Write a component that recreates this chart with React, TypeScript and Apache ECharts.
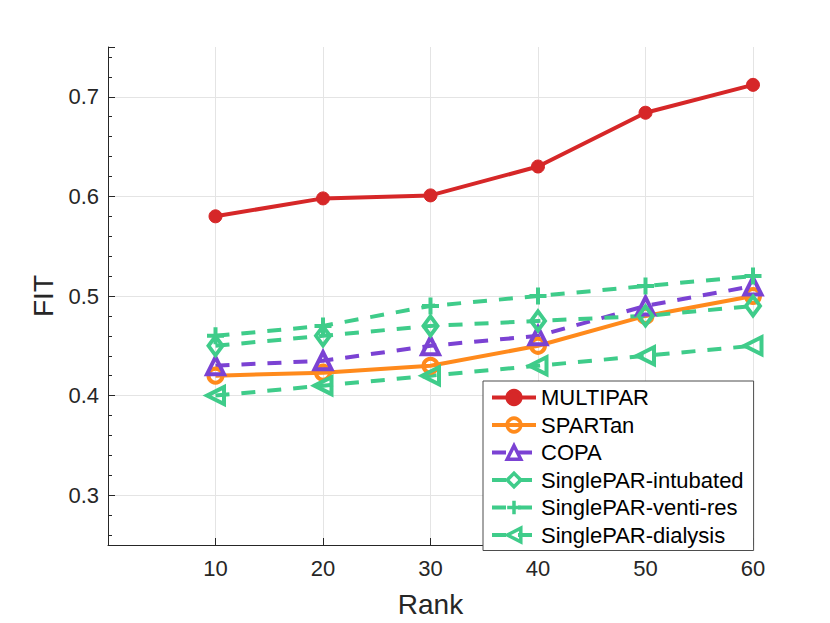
import React, { useEffect, useRef } from "react";
import * as echarts from "echarts";

const ranks = [10, 20, 30, 40, 50, 60];
const multipar = [0.58, 0.598, 0.601, 0.63, 0.684, 0.712];
const spartan = [0.42, 0.423, 0.43, 0.45, 0.48, 0.5];
const copa = [0.43, 0.435, 0.45, 0.46, 0.49, 0.51];
const intubated = [0.45, 0.46, 0.47, 0.475, 0.48, 0.49];
const ventiRes = [0.46, 0.47, 0.49, 0.5, 0.51, 0.52];
const dialysis = [0.4, 0.41, 0.42, 0.43, 0.44, 0.45];
const seriesNames = [
  "MULTIPAR",
  "SPARTan",
  "COPA",
  "SinglePAR-intubated",
  "SinglePAR-venti-res",
  "SinglePAR-dialysis",
];

const RED = "#D62728";
const ORANGE = "#FF8A1C";
const PURPLE = "#7B42D3";
const GREEN = "#3FCC8A";
const TEXT = "#262626";
const FONT = "'Liberation Sans', Arial, Helvetica, sans-serif";

const pair = (ys: number[]) => ranks.map((x, i) => [x, ys[i]]);

export default function App() {
  const ref = useRef<HTMLDivElement>(null);
  useEffect(() => {
    if (!ref.current) return;
    const chart = echarts.init(ref.current, undefined, { renderer: "svg" });
    const mk = (
      name: string,
      ys: number[],
      color: string,
      dashed: boolean,
      symbol: string,
      size: number | number[],
      filled: boolean
    ) => ({
      type: "line",
      name,
      data: pair(ys),
      symbol,
      symbolSize: size,
      showAllSymbol: true,
      lineStyle: { color, width: 4, type: dashed ? [14, 12] : "solid" },
      itemStyle: {
        color: filled ? color : "rgba(0,0,0,0)",
        borderColor: color,
        borderWidth: filled ? 1 : 4,
      },
      emphasis: { disabled: true },
      z: 3,
    });
    chart.setOption({
      animation: false,
      textStyle: { fontFamily: FONT },
      grid: { left: 108, top: 47, width: 645, height: 502, containLabel: false },
      xAxis: {
        type: "value",
        min: 0,
        max: 60,
        interval: 10,
        name: "Rank",
        nameLocation: "middle",
        nameGap: 45,
        nameTextStyle: { fontSize: 28, color: TEXT, fontFamily: FONT },
        axisLine: { show: true, onZero: false, lineStyle: { color: TEXT, width: 1 } },
        axisTick: { show: true, inside: true, length: 7, lineStyle: { color: TEXT } },
        axisLabel: {
          fontSize: 22,
          color: TEXT,
          margin: 12,
          fontFamily: FONT,
          formatter: (v: number) => (v === 0 ? "" : String(v)),
        },
        splitLine: { show: true, showMinLine: false, showMaxLine: true, lineStyle: { color: "#e4e4e4", width: 1 } },
      },
      yAxis: {
        type: "value",
        min: 0.25,
        max: 0.75,
        splitNumber: 5,
        name: "FIT",
        nameLocation: "middle",
        nameGap: 47,
        nameTextStyle: { fontSize: 28, color: TEXT, fontFamily: FONT },
        axisLine: { show: true, onZero: false, lineStyle: { color: TEXT, width: 1 } },
        axisTick: { show: true, inside: true, length: 7, lineStyle: { color: TEXT } },
        minorTick: { show: true, splitNumber: 5, length: 4, lineStyle: { color: TEXT } },
        axisLabel: {
          fontSize: 22,
          color: TEXT,
          margin: 9,
          fontFamily: FONT,
          showMinLabel: false,
          showMaxLabel: false,
          formatter: (v: number) => v.toFixed(1),
        },
        splitLine: { show: true, showMinLine: false, showMaxLine: false, lineStyle: { color: "#e4e4e4", width: 1 } },
      },
      legend: {
        orient: "vertical",
        left: 483,
        top: 381,
        padding: [5, 10, 4, 7],
        itemWidth: 44,
        itemHeight: 17,
        itemGap: 4.5,
        backgroundColor: "#ffffff",
        borderColor: "#4d4d4d",
        borderWidth: 1,
        lineStyle: { width: 4 },
        itemStyle: { borderWidth: 3.5 },
        textStyle: { fontSize: 22, lineHeight: 23, color: "#000000", fontFamily: FONT },
        data: seriesNames,
        z: 10,
      },
      series: [
        mk(seriesNames[0], multipar, RED, false, "circle", 13, true),
        mk(seriesNames[1], spartan, ORANGE, false, "circle", 14, false),
        mk(seriesNames[2], copa, PURPLE, true, "triangle", 17, false),
        mk(seriesNames[3], intubated, GREEN, true, "diamond", [14, 19], false),
        mk(seriesNames[4], ventiRes, GREEN, true, "path://M5,0 L5,10 M0,5 L10,5", 17, false),
        mk(seriesNames[5], dialysis, GREEN, true, "path://M0,5 L10,0 L10,10 Z", 17, false),
      ],
    });
    return () => chart.dispose();
  }, []);
  return (
    <div
      ref={ref}
      style={{ position: "absolute", left: 0, top: 0, width: 830, height: 623, background: "#fff" }}
    />
  );
}
